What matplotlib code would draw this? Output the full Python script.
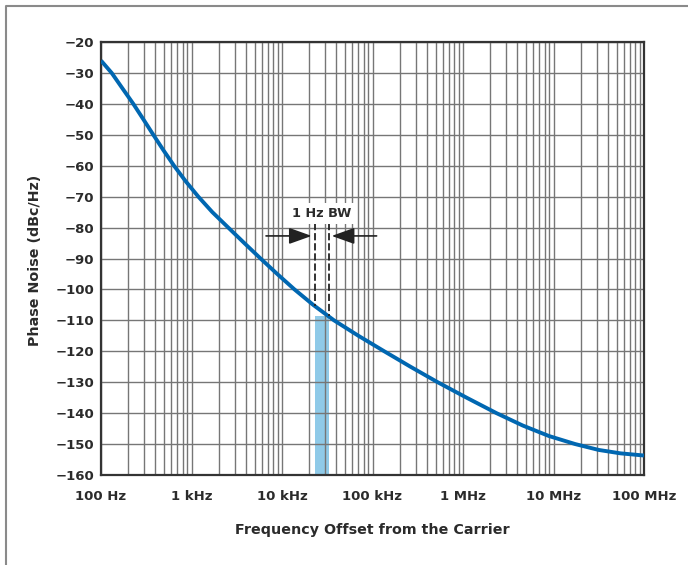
import numpy as np
import matplotlib
matplotlib.use("Agg")
import matplotlib.pyplot as plt
from matplotlib.ticker import LogLocator, NullFormatter
from matplotlib.lines import Line2D

plt.rcParams['font.family'] = ['DejaVu Sans']
plt.rcParams['font.weight'] = 'bold'

# phase noise curve
freq_hz = [100, 131.2, 172.6, 227.5, 293.8, 378.4, 489.8, 641.2, 861, 1189,
           1698, 2547, 3828, 5794, 8851, 13740, 22130, 37580, 69980, 134900,
           263000, 524800, 1.096e6, 2.344e6, 4.571e6, 8.913e6, 17.38e6,
           31.62e6, 54.95e6, 100e6]
noise_dbc = [-26.0, -30, -35, -40, -45, -50, -55, -60, -65, -70,
             -75, -80, -85, -90, -95, -100, -105, -110, -115, -120,
             -125, -130, -135, -140, -144, -147.4, -150,
             -151.9, -153.0, -153.7]

x_ticks = [1e2, 1e3, 1e4, 1e5, 1e6, 1e7, 1e8]
x_labels = ["100 Hz", "1 kHz", "10 kHz", "100 kHz", "1 MHz", "10 MHz", "100 MHz"]
y_ticks = list(range(-160, -10, 10))

# 1 Hz bandwidth marker
bw_lo, bw_hi = 23e3, 33e3
bw_top = -108.5
dash_top = -78.6
arrow_y = -82.7
arrow_left = (6.66e3, 21.3e3)
arrow_right = (111e3, 35.4e3)

blue = '#0067b1'
grid_col = '#767676'
ink = '#2b2b2b'

fig = plt.figure(figsize=(6.88, 5.65), dpi=100)
ax = fig.add_axes([101/688, 1 - 475/565, 543/688, 433/565])

ax.set_xscale('log')
ax.set_xlim(1e2, 1e8)
ax.set_ylim(-160, -20)

ax.xaxis.set_minor_locator(LogLocator(base=10, subs=np.arange(2, 10), numticks=100))
ax.xaxis.set_minor_formatter(NullFormatter())
ax.set_xticks(x_ticks, x_labels)
ax.set_yticks(y_ticks)

ax.grid(True, which='both', axis='x', color=grid_col, lw=1.0)
ax.grid(True, which='major', axis='y', color=grid_col, lw=1.0)
ax.set_axisbelow(True)

ax.tick_params(which='both', length=0, labelcolor=ink)
ax.tick_params(axis='x', pad=11, labelsize=9.5)
ax.tick_params(axis='y', pad=5, labelsize=9.5)
for lab in ax.get_xticklabels() + ax.get_yticklabels():
    lab.set_fontweight('bold')

for sp in ax.spines.values():
    sp.set_color('#333333')
    sp.set_linewidth(1.6)

# shaded 1 Hz band
ax.fill_between([bw_lo, bw_hi], [-160, -160], [bw_top, bw_top],
                color='#8fcae8', lw=0, zorder=0.5)

ax.plot(freq_hz, noise_dbc, color=blue, lw=2.8, solid_capstyle='butt', zorder=3)

# dashed verticals
logf = np.log10(freq_hz)
y_lo = np.interp(np.log10(bw_lo), logf, noise_dbc)
ax.plot([bw_lo, bw_lo], [dash_top, y_lo], color='#222222', lw=1.3,
        ls=(0, (4, 1.6)), zorder=4)
ax.plot([bw_hi, bw_hi], [dash_top, bw_top], color='#222222', lw=1.3,
        ls=(0, (4, 1.6)), zorder=4)

arrow_kw = dict(arrowstyle='-|>,head_length=1.4,head_width=0.5',
                color='#222222', lw=1.2, mutation_scale=10,
                shrinkA=0, shrinkB=0)
ax.annotate('', xy=(arrow_left[1], arrow_y), xytext=(arrow_left[0], arrow_y),
            arrowprops=arrow_kw, zorder=4)
ax.annotate('', xy=(arrow_right[1], arrow_y), xytext=(arrow_right[0], arrow_y),
            arrowprops=arrow_kw, zorder=4)

ax.text(np.sqrt(bw_lo * bw_hi), -75.4, '1 Hz BW', ha='center', va='center',
        fontsize=9.3, fontweight='bold', color=ink, zorder=5,
        bbox=dict(boxstyle='square,pad=0.3', fc='white', ec='none'))

fig.text(35/688, 1 - 260/565, 'Phase Noise (dBc/Hz)', rotation=90,
         ha='center', va='center', fontsize=10.3, fontweight='bold', color=ink)
fig.text(372/688, 1 - 530/565, 'Frequency Offset from the Carrier',
         ha='center', va='center', fontsize=10.3, fontweight='bold', color=ink)

# outer frame (top and left edges visible)
fx, fy = 6/688, 1 - 6/565
fig.add_artist(Line2D([fx, fx, 1.0], [0.0, fy, fy], transform=fig.transFigure,
                      color='#8a8a8a', lw=1.5))

fig.savefig('out.png', dpi=100)
